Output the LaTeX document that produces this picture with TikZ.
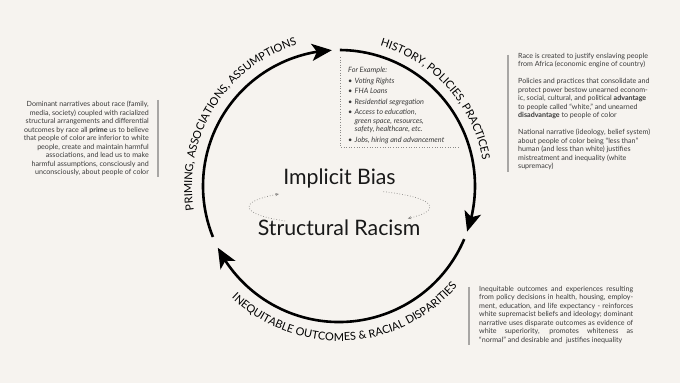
\documentclass[tikz,border=0pt]{standalone}
\usepackage{fontspec}
\setmainfont{Lato}
\usetikzlibrary{arrows.meta,decorations.text,bending}
\definecolor{bg}{HTML}{F6F3EF}
\definecolor{txt}{HTML}{3A3A3A}
\definecolor{barc}{HTML}{A8A6A4}
\definecolor{dotc}{HTML}{8A8886}
\newcommand{\arclabelfont}{\fontsize{11}{11}\selectfont}
\begin{document}
\begin{tikzpicture}[x=1pt,y=1pt,
  ring/.style={line width=2.6pt,-{Stealth[length=20pt,width=17pt,inset=5pt]}},
  para/.style={font=\fontsize{7.1}{8.5}\selectfont,text=txt,inner sep=0pt},
  sidebar/.style={draw=barc,line width=1.2pt},
  loopline/.style={draw=dotc,dotted,line width=0.7pt,-{Stealth[length=3.5pt,width=3pt]}},
  boxline/.style={draw=dotc,dotted,line width=0.6pt},
  big/.style={font=\fontsize{21.3}{24}\selectfont,text=black!90,inner sep=0pt},
  arclabel/.style={decoration={text along path,text align=center,text={#1}},decorate}
]
\fill[bg] (0,0) rectangle (680,383);
\useasboundingbox (0,0) rectangle (680,383);
\coordinate (C) at (339,197);
\coordinate (E) at (339.5,176);

% ring
\draw[ring] ([shift={(89.6:136)}]C) arc[start angle=89.6,end angle=-19.6,radius=136];
\draw[ring] ([shift={(-23:136)}]C) arc[start angle=-23,end angle=-153,radius=136];
\draw[ring] ([shift={(202:136)}]C) arc[start angle=202,end angle=93,radius=136];

% ring labels
\path[arclabel={|\arclabelfont|PRIMING, ASSOCIATIONS, ASSUMPTIONS}]
  ([shift={(213:147)}]C) arc[start angle=213,end angle=83,radius=147];
\path[arclabel={|\arclabelfont|HISTORY, POLICIES, PRACTICES}]
  ([shift={(107:146)}]C) arc[start angle=107,end angle=-23,radius=146];
\path[arclabel={|\arclabelfont|INEQUITABLE OUTCOMES {\&} RACIAL DISPARITIES}]
  ([shift={(208:155)}]C) arc[start angle=208,end angle=338,radius=155];

% central texts
\node[big,anchor=base] (ib) at (339.5,198) {Implicit Bias};
\node[big,anchor=base] (sr) at (339,147) {Structural Racism};
\draw[loopline] ([shift={(233:90.5 and 17.5)}]E) arc[start angle=233,end angle=132,x radius=90.5,y radius=17.5];
\draw[loopline] ([shift={(61:90.5 and 17.5)}]E) arc[start angle=61,end angle=-41,x radius=90.5,y radius=17.5];

% example box
\coordinate (bx1) at (340,326);
\coordinate (bx2) at (340,236);
\coordinate (bx3) at (460,236);
\draw[boxline] (bx1) -- (bx2) -- (bx3);
\node[anchor=north west,inner sep=0pt,text=txt,align=left,
      font=\fontsize{7.3}{8.6}\selectfont\itshape] (ex) at (348,316.5)
  {For Example:\\[2.6pt]
   \makebox[6.5pt][l]{\textbullet}Voting Rights\\[1.8pt]
   \makebox[6.5pt][l]{\textbullet}FHA Loans\\[1.8pt]
   \makebox[6.5pt][l]{\textbullet}Residential segregation\\[1.8pt]
   \makebox[6.5pt][l]{\textbullet}Access to education,\\
   \hspace*{6.5pt}green space, resources,\\
   \hspace*{6.5pt}safety, healthcare, etc.\\[1.8pt]
   \makebox[6.5pt][l]{\textbullet}Jobs, hiring and advancement};

% left text
\node[para,anchor=north east,align=right] (lt) at (149,282)
  {Dominant narratives about race (family,\\
   media, society) coupled with racialized\\
   structural arrangements and differential\\
   outcomes by race all \textbf{prime} us to believe\\
   that people of color are inferior to white\\
   people, create and maintain harmful\\
   associations, and lead us to make\\
   harmful assumptions, consciously and\\
   unconsciously, about people of color};
\coordinate (lb1) at (158,283);
\coordinate (lb2) at (158,206);
\draw[sidebar] (lb1) -- (lb2);

% right top text
\node[para,anchor=north west,align=left] (rt) at (518,330)
  {Race is created to justify enslaving people\\
   from Africa (economic engine of country)\\[8.5pt]
   Policies and practices that consolidate and\\
   protect power bestow unearned econom-\\
   ic, social, cultural, and political \textbf{advantage}\\
   to people called “white,” and unearned\\
   \textbf{disadvantage} to people of color\\[8.5pt]
   National narrative (ideology, belief system)\\
   about people of color being “less than”\\
   human (and less than white) justifies\\
   mistreatment and inequality (white\\
   supremacy)};
\coordinate (rb1) at (508,328);
\coordinate (rb2) at (508,211);
\draw[sidebar] (rb1) -- (rb2);

% bottom right text
\node[para,anchor=north west,align=left] (br) at (479,97)
  {\makebox[154pt][s]{Inequitable outcomes and experiences resulting}\\
   \makebox[154pt][s]{from policy decisions in health, housing, employ-}\\
   \makebox[154pt][s]{ment, education, and life expectancy - reinforces}\\
   \makebox[154pt][s]{white supremacist beliefs and ideology; dominant}\\
   \makebox[154pt][s]{narrative uses disparate outcomes as evidence of}\\
   \makebox[154pt][s]{white superiority, promotes whiteness as}\\
   “normal” and desirable and\ \ justifies inequality};
\coordinate (bb1) at (469,96);
\coordinate (bb2) at (469,38);
\draw[sidebar] (bb1) -- (bb2);
\end{tikzpicture}
\end{document}
